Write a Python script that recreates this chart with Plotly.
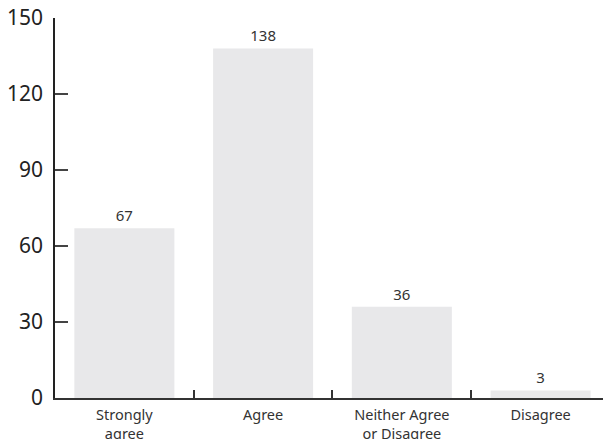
import plotly.graph_objects as go

categories = ["Strongly<br>agree", "Agree", "Neither Agree<br>or Disagree", "Disagree"]
values = [67, 138, 36, 3]
y_ticks = [0, 30, 60, 90, 120, 150]
title_text = "I was given the help I needed to support"

fig = go.Figure(
    go.Bar(
        x=categories,
        y=values,
        text=[str(v) for v in values],
        textposition="outside",
        textfont=dict(size=15, color="#333333", family="Noto Sans"),
        marker=dict(color="#e8e8ea", line=dict(width=0)),
        cliponaxis=False,
        hoverinfo="skip",
    )
)

fig.update_layout(
    width=603,
    height=439,
    margin=dict(l=55, r=0, t=18, b=41),
    paper_bgcolor="white",
    plot_bgcolor="white",
    bargap=0.279,
    showlegend=False,
    font=dict(family="Noto Sans", color="#222222"),
)

fig.add_annotation(
    text=title_text,
    xref="paper",
    yref="paper",
    x=0.545,
    y=1,
    xanchor="center",
    yanchor="bottom",
    yshift=16.5,
    showarrow=False,
    font=dict(size=15, color="#444444"),
)

fig.update_xaxes(
    type="category",
    range=[-0.5, 3.45],
    automargin=False,
    showline=True,
    linecolor="#333333",
    linewidth=1.5,
    ticks="inside",
    tickson="boundaries",
    ticklen=8,
    tickcolor="#333333",
    tickwidth=1.5,
    ticklabelstandoff=3,
    tickfont=dict(size=14.5, color="#333333"),
    showgrid=False,
    zeroline=False,
)

fig.update_yaxes(
    range=[0, 150],
    tickvals=y_ticks,
    automargin=False,
    showline=True,
    linecolor="#222222",
    linewidth=1.5,
    ticks="inside",
    ticklen=13,
    tickcolor="#444444",
    tickwidth=1.5,
    ticklabelstandoff=6,
    tickfont=dict(size=21, color="#222222"),
    showgrid=False,
    zeroline=False,
)

fig.write_html("out.html")
